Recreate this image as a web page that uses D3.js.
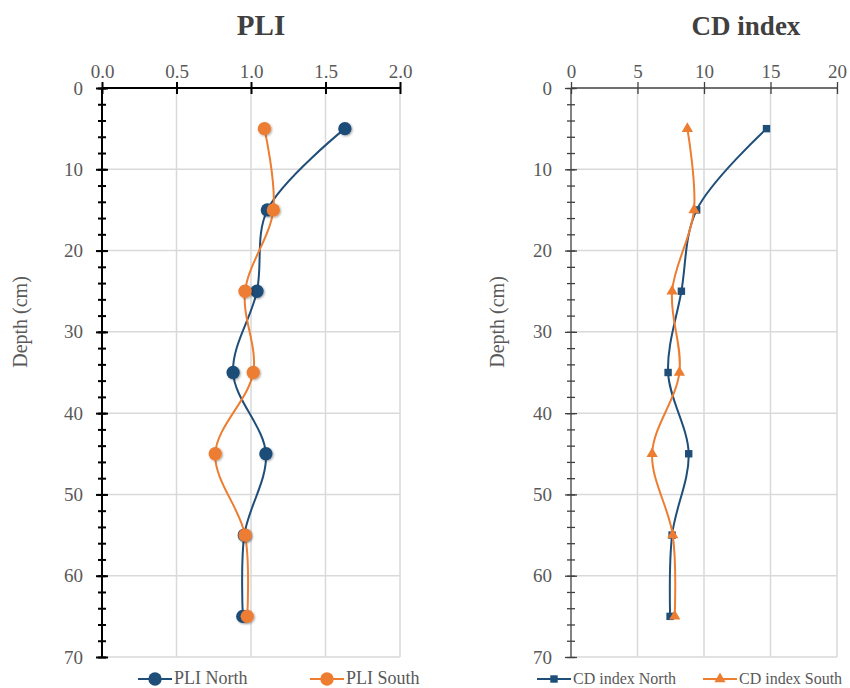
<!DOCTYPE html>
<html>
<head>
<meta charset="utf-8">
<script src="https://cdn.jsdelivr.net/npm/d3@7"></script>
<style>
  body { margin: 0; background: #fff; }
  svg text { font-family: "Liberation Serif", "Times New Roman", serif; }
</style>
</head>
<body>
<div id="chart"></div>
<script>
// depths (cm) shared by both panels
var depths = [5, 15, 25, 35, 45, 55, 65];

// PLI values
var pliNorth = [1.63, 1.11, 1.04, 0.88, 1.10, 0.955, 0.945];
var pliSouth = [1.09, 1.15, 0.96, 1.015, 0.76, 0.96, 0.975];

// CD index values
var cdNorth = [14.7, 9.45, 8.3, 7.3, 8.85, 7.6, 7.45];
var cdSouth = [8.75, 9.25, 7.6, 8.15, 6.1, 7.65, 7.8];

var pliTicks = [0, 0.5, 1.0, 1.5, 2.0];
var cdTicks = [0, 5, 10, 15, 20];
var depthTicks = [0, 10, 20, 30, 40, 50, 60, 70];
var depthMinor = d3.range(0, 71, 2);

var blue = "#1f4e79";
var orange = "#ed7d31";

var svg = d3.select("#chart").append("svg").attr("width", 850).attr("height", 688);

// soft shadow used on the PLI markers
var defs = svg.append("defs");
var f = defs.append("filter").attr("id", "shadow").attr("x", "-50%").attr("y", "-50%").attr("width", "200%").attr("height", "200%");
f.append("feDropShadow").attr("dx", 1).attr("dy", 1).attr("stdDeviation", 1).attr("flood-color", "#000").attr("flood-opacity", 0.35);

function drawPanel(p) {
	var x = d3.scaleLinear().domain([p.xTicks[0], p.xTicks[p.xTicks.length - 1]]).range([p.left, p.right]);
	var y = d3.scaleLinear().domain([0, 70]).range([88, 657]);
	var g = svg.append("g");

	//gridlines
	g.append("g").selectAll("line").data(p.xTicks.slice(1)).enter().append("line")
		.attr("x1", function (d) { return x(d); }).attr("x2", function (d) { return x(d); })
		.attr("y1", y(0)).attr("y2", y(70))
		.attr("stroke", "#d9d9d9").attr("stroke-width", 1.5);
	g.append("g").selectAll("line").data(depthTicks.slice(1)).enter().append("line")
		.attr("x1", x.range()[0]).attr("x2", x.range()[1])
		.attr("y1", function (d) { return y(d); }).attr("y2", function (d) { return y(d); })
		.attr("stroke", "#d9d9d9").attr("stroke-width", 1.5);

	//top axis
	var top = g.append("g").attr("transform", "translate(0," + y(0) + ")")
		.call(d3.axisTop(x).tickValues(p.xTicks).tickSize(6).tickPadding(4).tickFormat(p.fmt));
	top.selectAll(".tick line").attr("y2", -6).attr("y1", 6);

	//left axis, minor then major
	var minor = g.append("g").attr("transform", "translate(" + x.range()[0] + ",0)")
		.call(d3.axisLeft(y).tickValues(depthMinor).tickSize(4).tickFormat(""));
	minor.selectAll(".tick line").attr("x1", 4);
	var left = g.append("g").attr("transform", "translate(" + x.range()[0] + ",0)")
		.call(d3.axisLeft(y).tickValues(depthTicks).tickSize(6).tickPadding(13));
	left.selectAll(".tick line").attr("x1", 6);

	[top, minor, left].forEach(function (a) {
		a.selectAll(".domain").attr("stroke", p.axisColor).attr("stroke-width", p.axisWidth);
		a.selectAll(".tick line").attr("stroke", p.axisColor).attr("stroke-width", p.axisWidth);
		a.selectAll("text").attr("fill", "#595959").attr("font-size", 19)
			.attr("font-family", "Liberation Serif, serif");
	});
	top.select(".domain").attr("d", "M" + x.range()[0] + ",0H" + x.range()[1]);
	left.select(".domain").attr("d", "M0," + y(0) + "V" + y(70));
	minor.select(".domain").remove();

	//titles
	g.append("text").attr("x", p.titleX).attr("y", 35).attr("text-anchor", "middle")
		.attr("font-size", p.titleSize).attr("font-weight", "bold").attr("fill", "#404040").text(p.title);
	g.append("text").attr("transform", "translate(" + p.yLabelX + ",322) rotate(-90)")
		.attr("text-anchor", "middle").attr("font-size", 20).attr("fill", "#595959").text("Depth (cm)");

	//lines and markers
	var line = d3.line().x(function (d) { return x(d[0]); }).y(function (d) { return y(d[1]); })
		.curve(d3.curveCatmullRom.alpha(0.5));
	p.series.forEach(function (s) {
		var pts = s.values.map(function (v, i) { return [v, depths[i]]; });
		g.append("path").datum(pts).attr("d", line).attr("fill", "none")
			.attr("stroke", s.color).attr("stroke-width", 2);
		var sym = d3.symbol().type(s.symbol).size(s.size);
		g.append("g").selectAll("path").data(pts).enter().append("path")
			.attr("d", sym)
			.attr("transform", function (d) { return "translate(" + x(d[0]) + "," + y(d[1]) + ")"; })
			.attr("fill", s.color)
			.attr("filter", p.shadow ? "url(#shadow)" : null);

		//legend entry
		var lg = g.append("g").attr("transform", "translate(" + s.legendX + ",679)");
		lg.append("line").attr("x1", 0).attr("x2", 34).attr("stroke", s.color).attr("stroke-width", 2);
		lg.append("path").attr("d", sym).attr("transform", "translate(17,0)").attr("fill", s.color);
		lg.append("text").attr("x", 36).attr("y", 5).attr("font-size", p.legendSize).attr("fill", "#595959").text(s.name);
	});
}

drawPanel({
	title: "PLI", titleX: 261, titleSize: 29, yLabelX: 27, legendSize: 18,
	left: 102, right: 400, xTicks: pliTicks, fmt: d3.format(".1f"),
	axisColor: "#000", axisWidth: 2, shadow: true,
	series: [
		{ name: "PLI North", values: pliNorth, color: blue, symbol: d3.symbolCircle, size: 140, legendX: 138 },
		{ name: "PLI South", values: pliSouth, color: orange, symbol: d3.symbolCircle, size: 140, legendX: 310 }
	]
});

drawPanel({
	title: "CD index", titleX: 746, titleSize: 27, yLabelX: 504, legendSize: 16,
	left: 571, right: 837, xTicks: cdTicks, fmt: d3.format("d"),
	axisColor: "#404040", axisWidth: 1.3, shadow: false,
	series: [
		{ name: "CD index North", values: cdNorth, color: blue, symbol: d3.symbolSquare, size: 55, legendX: 537 },
		{ name: "CD index South", values: cdSouth, color: orange, symbol: d3.symbolTriangle, size: 55, legendX: 703 }
	]
});
</script>
</body>
</html>
